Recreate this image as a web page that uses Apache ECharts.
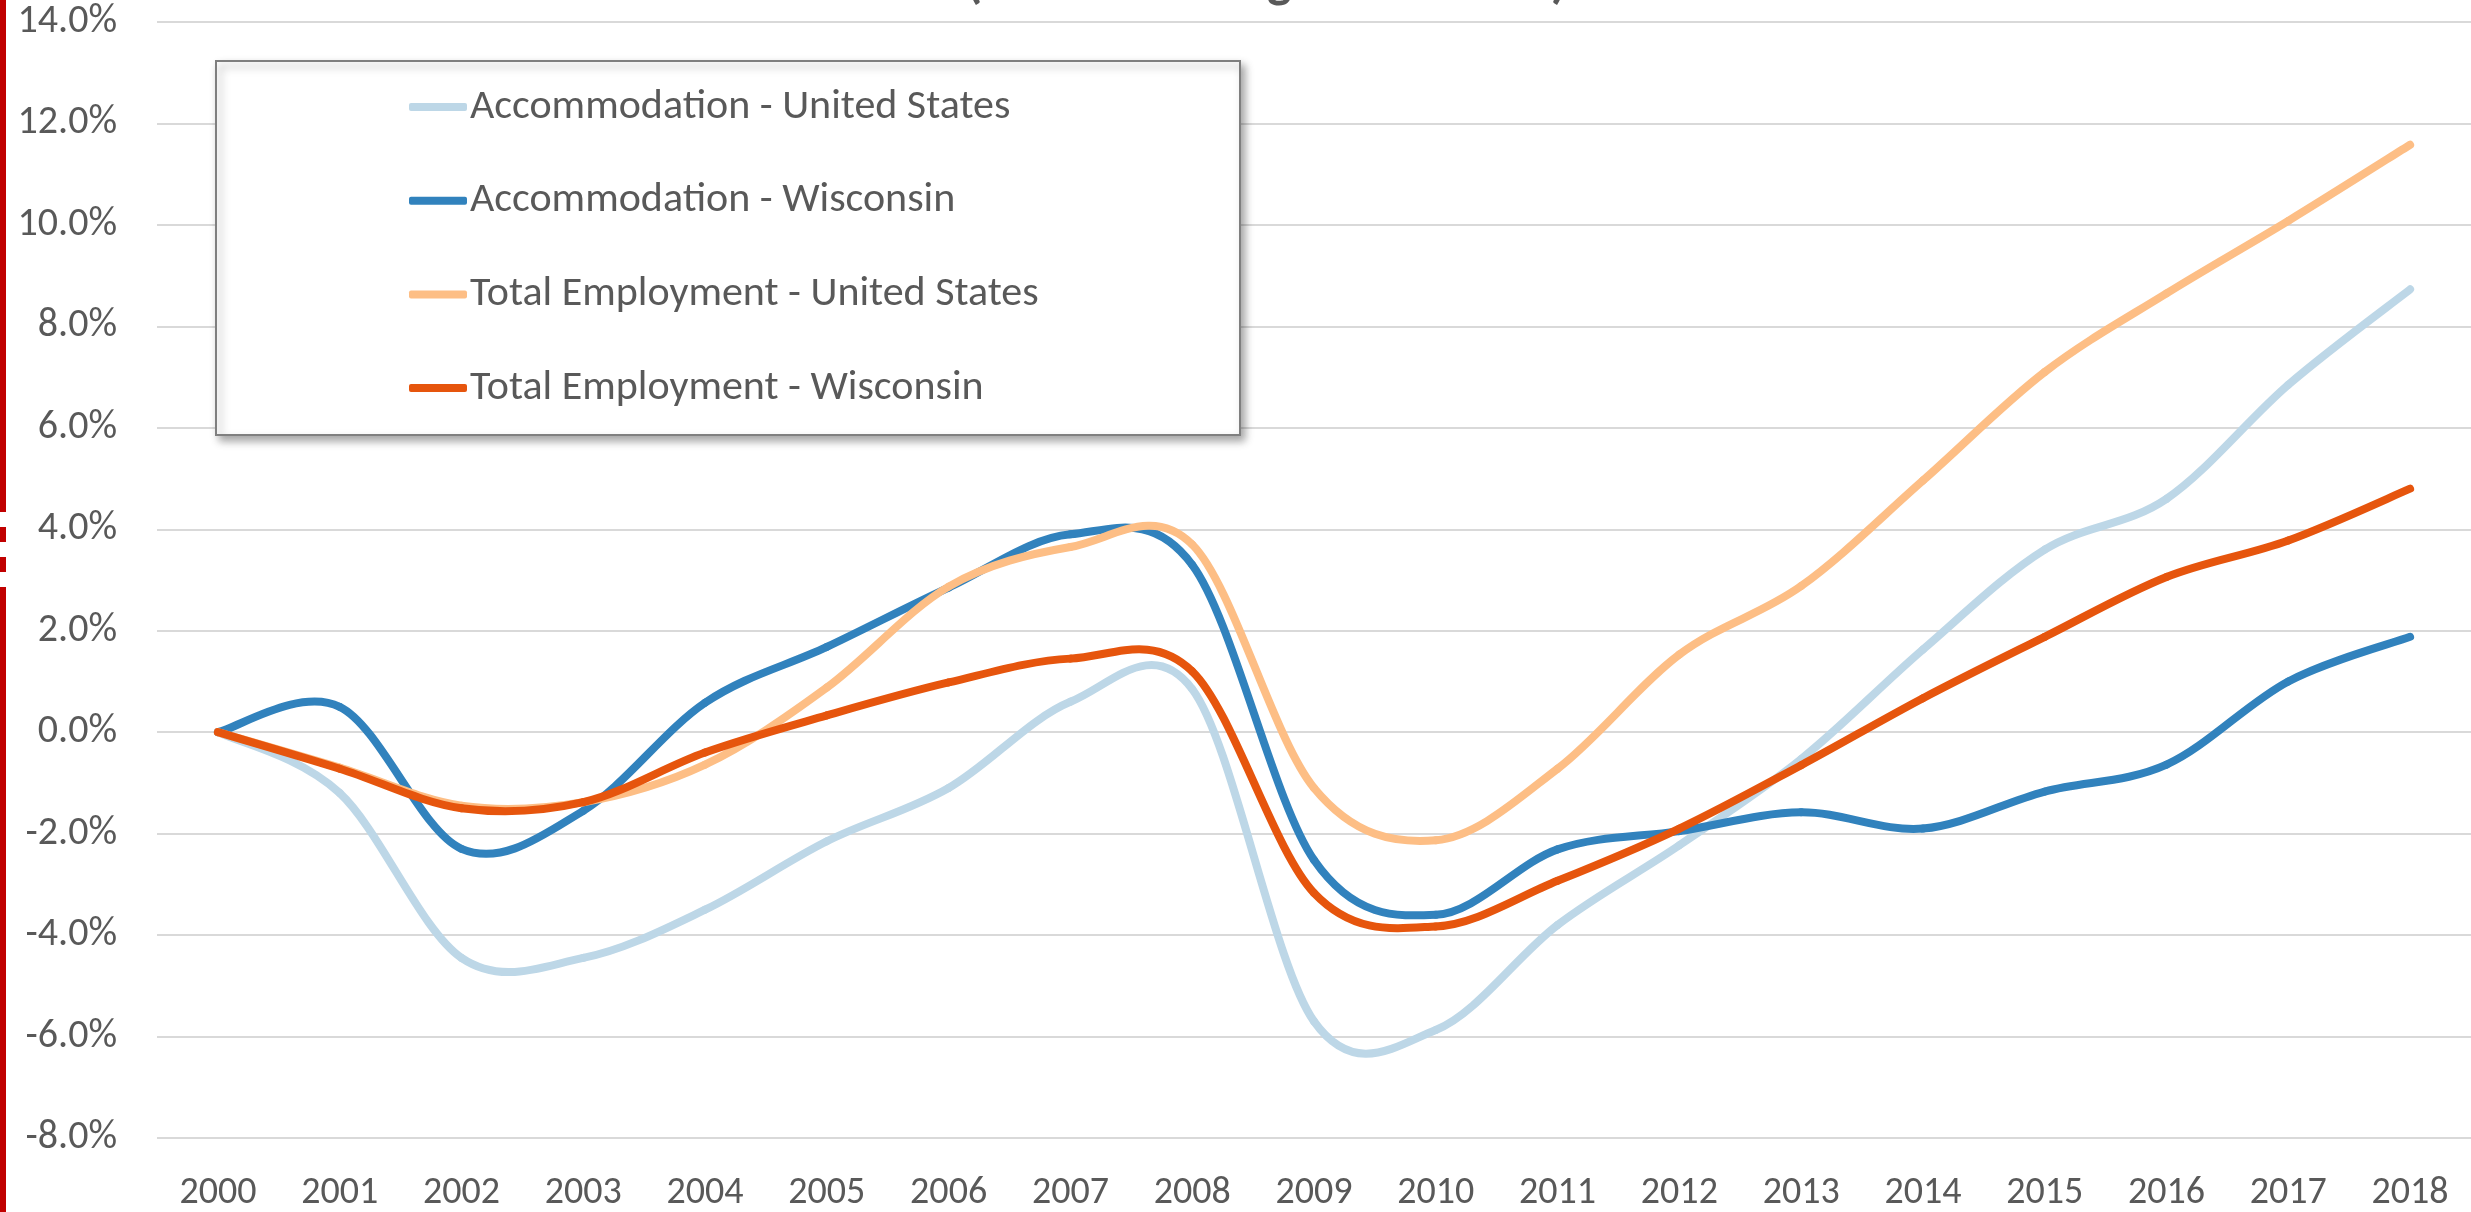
<!DOCTYPE html>
<html>
<head>
<meta charset="utf-8">
<script src="https://cdn.jsdelivr.net/npm/echarts@6/dist/echarts.min.js"></script>
<style>
html, body { margin: 0; padding: 0; background: #fff; }
#main { width: 2471px; height: 1212px; }
</style>
</head>
<body>
<div id="main"></div>
<script>
var myChart = echarts.init(document.getElementById('main'));

// years on the x axis
var years = ['2000','2001','2002','2003','2004','2005','2006','2007','2008','2009',
             '2010','2011','2012','2013','2014','2015','2016','2017','2018'];

// percent change since 2000
var accomUS = [0, -1.2, -4.45, -4.45, -3.5, -2.15, -1.1, 0.6, 0.85, -5.7,
               -5.87, -3.8, -2.23, -0.53, 1.63, 3.6, 4.6, 6.85, 8.73];
var accomWI = [0, 0.5, -2.3, -1.55, 0.58, 1.68, 2.85, 3.9, 3.3, -2.52,
               -3.6, -2.31, -1.95, -1.58, -1.9, -1.17, -0.64, 1.0, 1.88];
var totalUS = [0, -0.7, -1.45, -1.38, -0.64, 0.88, 2.87, 3.65, 3.7, -1.1,
               -2.13, -0.72, 1.53, 2.88, 4.96, 7.1, 8.65, 10.08, 11.58];
var totalWI = [0, -0.72, -1.5, -1.38, -0.4, 0.33, 0.98, 1.45, 1.2, -3.17,
               -3.83, -2.93, -1.9, -0.65, 0.67, 1.88, 3.06, 3.78, 4.8];

var names = ['Accommodation - United States', 'Accommodation - Wisconsin',
             'Total Employment - United States', 'Total Employment - Wisconsin'];
var colors = ['#bdd7e7', '#3182bd', '#fdbe85', '#e6550d'];

var font = 'Carlito, Lato, sans-serif';

// smoothed line like the spreadsheet one (catmull-rom through the points)
function mkSeries(i, vals) {
    return {
        name: names[i],
        type: 'custom',
        coordinateSystem: 'cartesian2d',
        data: vals.map(function (v, k) { return [k, v]; }),
        encode: { x: 0, y: 1 },
        itemStyle: { color: colors[i] },
        z: 2 + i,
        renderItem: function (params, api) {
            if (params.dataIndex !== 0) return null;
            var pts = vals.map(function (v, k) { return api.coord([k, v]); });
            var segs = [];
            for (var k = 0; k < pts.length - 1; k++) {
                var p0 = pts[k - 1] || pts[k];
                var p1 = pts[k];
                var p2 = pts[k + 1];
                var p3 = pts[k + 2] || pts[k + 1];
                segs.push({
                    type: 'bezierCurve',
                    shape: {
                        x1: p1[0], y1: p1[1], x2: p2[0], y2: p2[1],
                        cpx1: p1[0] + (p2[0] - p0[0]) / 6, cpy1: p1[1] + (p2[1] - p0[1]) / 6,
                        cpx2: p2[0] - (p3[0] - p1[0]) / 6, cpy2: p2[1] - (p3[1] - p1[1]) / 6
                    },
                    style: { fill: null, stroke: colors[i], lineWidth: 8, lineCap: 'round' }
                });
            }
            return { type: 'group', children: segs };
        }
    };
}

var option = {
    backgroundColor: '#fff',
    animation: false,
    color: colors,
    title: {
        text: '(Percent Change from 2000)',
        left: 966,
        top: -42,
        padding: 0,
        textStyle: { fontFamily: font, fontSize: 52, fontWeight: 'bold', color: '#595959', lineHeight: 52 }
    },
    grid: { left: 157, top: 22, width: 2324, height: 1116 },
    xAxis: {
        type: 'category',
        data: years,
        boundaryGap: true,
        axisLine: { show: false },
        axisTick: { show: false },
        axisLabel: { color: '#595959', fontFamily: font, fontSize: 38, margin: 36, interval: 0 }
    },
    yAxis: {
        type: 'value',
        min: -8,
        max: 14,
        interval: 2,
        axisLine: { show: false },
        axisTick: { show: false },
        splitLine: { lineStyle: { color: '#d9d9d9', width: 2 } },
        axisLabel: {
            color: '#595959', fontFamily: font, fontSize: 40, margin: 40,
            formatter: function (v) { return v.toFixed(1) + '%'; }
        }
    },
    legend: {
        orient: 'vertical',
        left: 409,
        top: 85,
        padding: 0,
        itemGap: 49.7,
        itemWidth: 58,
        itemHeight: 8,
        icon: 'roundRect',
        textStyle: { color: '#595959', fontFamily: font, fontSize: 42, lineHeight: 44, padding: [0, 0, 0, -2] },
        data: names
    },
    graphic: [
        {
            type: 'rect',
            shape: { x: 216, y: 61, width: 1024, height: 374 },
            style: { fill: '#fff', stroke: '#7f7f7f', lineWidth: 2,
                     shadowBlur: 8, shadowOffsetX: 4, shadowOffsetY: 5, shadowColor: 'rgba(0,0,0,0.35)' },
            z: 1
        },
        { type: 'rect', shape: { x: 0, y: 0, width: 6, height: 1212 }, style: { fill: '#c00000' }, z: 10 },
        { type: 'rect', shape: { x: 0, y: 512, width: 6, height: 15 }, style: { fill: '#fff' }, z: 11 },
        { type: 'rect', shape: { x: 0, y: 542, width: 6, height: 15 }, style: { fill: '#fff' }, z: 11 },
        { type: 'rect', shape: { x: 0, y: 572, width: 6, height: 15 }, style: { fill: '#fff' }, z: 11 }
    ],
    series: [
        mkSeries(0, accomUS),
        mkSeries(1, accomWI),
        mkSeries(2, totalUS),
        mkSeries(3, totalWI)
    ]
};
myChart.setOption(option);
</script>
</body>
</html>
